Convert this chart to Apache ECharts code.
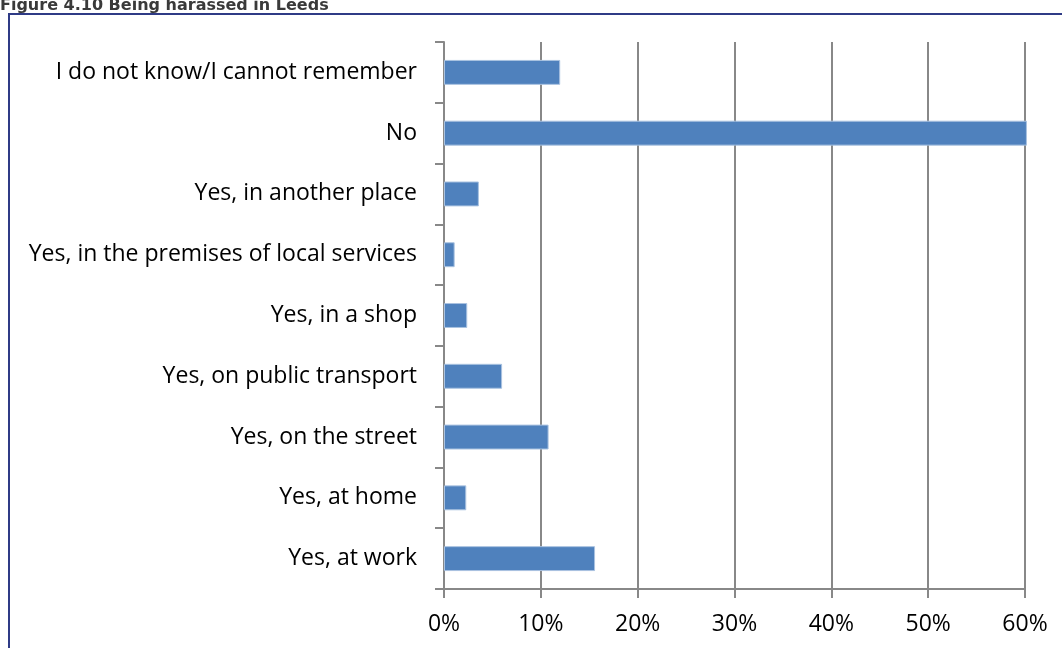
<!DOCTYPE html>
<html>
<head>
<meta charset="utf-8">
<script src="https://cdn.jsdelivr.net/npm/echarts@6/dist/echarts.min.js"></script>
<style>
html,body{margin:0;padding:0;background:#fff;}
#chart{width:1062px;height:648px;}
</style>
</head>
<body>
<div id="chart"></div>
<script>
const titleText = "Figure 4.10 Being harassed in Leeds";
const categories = [
  "I do not know/I cannot remember",
  "No",
  "Yes, in another place",
  "Yes, in the premises of local services",
  "Yes, in a shop",
  "Yes, on public transport",
  "Yes, on the street",
  "Yes, at home",
  "Yes, at work"
];
const values = [12.0, 60.2, 3.6, 1.1, 2.4, 6.0, 10.8, 2.3, 15.6];
const xTicks = [0, 10, 20, 30, 40, 50, 60];

const chart = echarts.init(document.getElementById('chart'), null, {renderer: 'canvas'});
const font = '"Open Sans", "Liberation Sans", sans-serif';
chart.setOption({
  animation: false,
  backgroundColor: '#fff',
  graphic: [
    {type: 'rect', shape: {x: 9, y: 14, width: 1100, height: 700},
     style: {fill: 'none', stroke: '#2f3b86', lineWidth: 2}, z: 10},
    {type: 'text', x: 0, y: 14,
     style: {text: titleText, font: 'bold 16px "DejaVu Sans"', fill: '#3a3a3a', verticalAlign: 'bottom'}}
  ],
  grid: {left: 444, right: 37, top: 42, bottom: 59, containLabel: false},
  xAxis: {
    type: 'value', min: xTicks[0], max: xTicks[xTicks.length - 1], interval: 10,
    axisLine: {show: true, lineStyle: {color: '#888', width: 2}},
    axisTick: {show: true, length: 9, lineStyle: {color: '#888', width: 2}},
    splitLine: {show: true, lineStyle: {color: '#888', width: 2}},
    axisLabel: {formatter: '{value}%', color: '#000', fontFamily: font, fontSize: 23, margin: 24}
  },
  yAxis: {
    type: 'category', data: categories, inverse: true,
    axisLine: {show: true, lineStyle: {color: '#888', width: 2}},
    axisTick: {show: true, length: 9, lineStyle: {color: '#888', width: 2}},
    axisLabel: {color: '#000', fontFamily: font, fontSize: 23, margin: 27}
  },
  series: [{
    type: 'bar', data: values, barCategoryGap: '59%', clip: false,
    itemStyle: {color: '#4f81bd', borderColor: '#a9c2e0', borderWidth: 1}
  }]
});
</script>
</body>
</html>
